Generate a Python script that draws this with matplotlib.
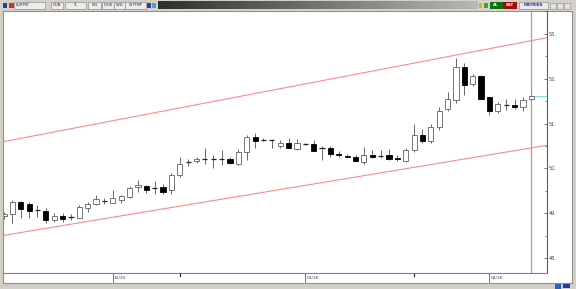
import numpy as np
import matplotlib
matplotlib.use("Agg")
import matplotlib.pyplot as plt
from matplotlib.patches import Rectangle

# daily EURTRY candles
opens = [48.93, 48.98, 49.25, 49.20, 49.07, 49.05, 48.85, 48.94, 48.91, 48.90,
         49.12, 49.21, 49.28, 49.24, 49.30, 49.37, 49.58, 49.60, 49.56, 49.58,
         49.53, 49.85, 50.14, 50.17, 50.20, 50.20, 50.20, 50.20, 50.11, 50.37,
         50.69, 50.63, 50.63, 50.49, 50.56, 50.43, 50.55, 50.54, 50.46, 50.45,
         50.32, 50.28, 50.26, 50.15, 50.31, 50.28, 50.30, 50.24, 50.17, 50.41,
         50.75, 50.62, 50.92, 51.32, 51.53, 52.26, 51.88, 52.05, 51.59, 51.29,
         51.42, 51.41, 51.36, 51.54]
highs = [49.03, 49.29, 49.27, 49.25, 49.18, 49.12, 49.00, 49.00, 48.98, 49.18,
         49.26, 49.41, 49.35, 49.52, 49.40, 49.60, 49.74, 49.62, 49.72, 49.65,
         49.89, 50.26, 50.21, 50.26, 50.45, 50.30, 50.41, 50.26, 50.43, 50.75,
         50.80, 50.67, 50.65, 50.63, 50.67, 50.66, 50.57, 50.63, 50.50, 50.51,
         50.38, 50.33, 50.31, 50.48, 50.42, 50.41, 50.43, 50.30, 50.45, 51.00,
         50.87, 50.99, 51.38, 51.71, 52.46, 52.36, 52.11, 52.08, 51.60, 51.49,
         51.54, 51.54, 51.59, 51.64]
lows = [48.88, 48.78, 48.89, 48.89, 48.92, 48.78, 48.80, 48.80, 48.85, 48.89,
        49.03, 49.18, 49.20, 49.22, 49.22, 49.33, 49.48, 49.45, 49.44, 49.44,
        49.44, 49.80, 50.05, 50.13, 50.11, 50.00, 50.08, 50.09, 50.08, 50.19,
        50.46, 50.61, 50.45, 50.45, 50.45, 50.41, 50.53, 50.38, 50.19, 50.26,
        50.26, 50.23, 50.15, 50.11, 50.23, 50.23, 50.19, 50.17, 50.15, 50.37,
        50.56, 50.56, 50.86, 51.27, 51.45, 51.64, 51.84, 51.54, 51.19, 51.24,
        51.30, 51.32, 51.29, 51.52]
closes = [48.99, 49.25, 49.09, 49.05, 49.07, 48.86, 48.94, 48.88, 48.91, 49.13,
          49.20, 49.32, 49.28, 49.33, 49.38, 49.56, 49.62, 49.52, 49.56, 49.48,
          49.85, 50.11, 50.14, 50.22, 50.20, 50.20, 50.20, 50.13, 50.37, 50.69,
          50.61, 50.63, 50.63, 50.56, 50.46, 50.56, 50.55, 50.39, 50.46, 50.33,
          50.29, 50.25, 50.17, 50.31, 50.26, 50.28, 50.22, 50.20, 50.40, 50.75,
          50.62, 50.93, 51.27, 51.54, 52.26, 51.86, 52.05, 51.54, 51.29, 51.44,
          51.42, 51.38, 51.53, 51.62]

# trend channel (start bar, end bar, value at start, value at end)
channel_x = [0, 65]
upper_y = [50.60, 52.92]
lower_y = [48.51, 50.52]

month_pos = [13, 36, 58]
month_labels = ["12/25", "01/26", "02/26"]
week_pos = [21, 49]
y_ticks = [48, 49, 50, 51, 52, 53]

W, H = 576, 289
fig = plt.figure(figsize=(W / 100, H / 100), dpi=100)
fig.patch.set_facecolor("#d4d0c8")


def px_axes(x0, y0, x1, y1, **kw):
    # axes placed by pixel box (top-left origin)
    return fig.add_axes([x0 / W, 1 - y1 / H, (x1 - x0) / W, (y1 - y0) / H], **kw)


# white chart panel with grey frame
bg = px_axes(3, 11, 572, 283)
bg.set_xticks([])
bg.set_yticks([])
bg.set_facecolor("white")
for s in bg.spines.values():
    s.set_color("#909090")
    s.set_linewidth(0.8)

# main price axes
ax = px_axes(4, 11, 546.7, 272.5)
ax.set_facecolor("none")
ax.set_xlim(0, 64.84)
ax.set_ylim(47.68, 53.51)
for side in ["top", "left"]:
    ax.spines[side].set_visible(False)
ax.spines["bottom"].set_color("#808080")
ax.spines["bottom"].set_linewidth(0.8)
ax.spines["right"].set_color("#606060")
ax.spines["right"].set_linewidth(0.8)

ax.yaxis.tick_right()
ax.set_yticks(y_ticks)
ax.set_yticklabels([f"{v}." for v in y_ticks], fontsize=3.5, color="#404040")
ax.set_yticks([v + 0.5 for v in y_ticks[:-1]] + [53.5], minor=True)
ax.tick_params(axis="y", which="major", direction="in", length=2, width=0.5,
               pad=1.5, colors="#404040")
ax.tick_params(axis="y", which="minor", direction="in", length=1.5, width=0.5,
               colors="#404040")
ax.set_xticks([])

# channel
ax.plot(channel_x, upper_y, color="#ff8a8a", lw=0.8)
ax.plot(channel_x, lower_y, color="#ff8a8a", lw=0.8)

# last bar divider + last price marker
ax.axvline(62.96, color="#a0a0a0", lw=0.9)
ax.plot([62.96, 64.84], [closes[-1], closes[-1]], color="#80e0e8", lw=0.7)

# candles
bw = 0.62
for i in range(len(opens)):
    o, h, l, c = opens[i], highs[i], lows[i], closes[i]
    ax.vlines(i, l, h, color="#505050", lw=0.6, zorder=2)
    lo, hi = min(o, c), max(o, c)
    if hi - lo < 0.02:
        ax.hlines(o, i - bw / 2, i + bw / 2, color="#202020", lw=0.9, zorder=3)
        continue
    if c >= o:
        fc, ec = "white", "#606060"
    else:
        fc, ec = "black", "black"
    ax.add_patch(Rectangle((i - bw / 2, lo), bw, hi - lo, facecolor=fc,
                           edgecolor=ec, lw=0.6, zorder=3))

# date labels under the chart
for p, lab in zip(month_pos, month_labels):
    ax.plot([p, p], [0, -0.037], transform=ax.get_xaxis_transform(),
            color="#404040", lw=0.5, clip_on=False)
    ax.text(p + 0.12, -0.022, lab, transform=ax.get_xaxis_transform(),
            fontsize=3.2, color="#404040", ha="left", va="center", clip_on=False)
for p in week_pos:
    ax.plot([p, p], [-0.004, -0.012], transform=ax.get_xaxis_transform(),
            color="#202020", lw=0.8, clip_on=False)

# top tool bar
top = px_axes(0, 0, 576, 10.5)
top.axis("off")
top.add_patch(Rectangle((0, 0), 576, 10.5, facecolor="#d4d0c8", lw=0, zorder=0))
grad = np.linspace(0.18, 0.72, 256).reshape(1, -1)
top.imshow(grad, cmap="gray", aspect="auto", extent=(158, 478, 9, 1.5),
           vmin=0, vmax=1, zorder=1)
top.set_xlim(0, 576)
top.set_ylim(10.5, 0)

boxes = [(14, 45, "EURTRY"), (51, 63, "GUN"), (65, 86, "TL"), (88, 101, "LIN"),
         (102, 114, "IOHK"), (114, 125, "5VD"), (125, 146, "SYYTMP")]
for x0, x1, t in boxes:
    top.add_patch(Rectangle((x0, 2), x1 - x0, 6.5, facecolor="#ececec",
                            edgecolor="#808080", lw=0.4, zorder=2))
    top.text(x0 + 2 if t == "EURTRY" else (x0 + x1) / 2, 5.3, t, fontsize=2.6,
             ha="left" if t == "EURTRY" else "center", va="center",
             color="#202060", zorder=3)
icons = [(3, 4, "#2040a0"), (9, 5, "#d03030"), (147, 4, "#404080"),
         (152, 4, "#40a0e0"), (479, 3, "#e0b020"), (484, 4, "#40a040")]
for x0, w, col in icons:
    top.add_patch(Rectangle((x0, 2.5), w, 5.5, facecolor=col, lw=0, zorder=2))
top.add_patch(Rectangle((490, 2), 12.5, 6.5, facecolor="#107010", lw=0, zorder=2))
top.text(496, 5.3, "AL", fontsize=2.8, ha="center", va="center", color="white",
         weight="bold", zorder=3)
top.add_patch(Rectangle((503, 2), 13.5, 6.5, facecolor="#a01010", lw=0, zorder=2))
top.text(509.5, 5.3, "SAT", fontsize=2.8, ha="center", va="center", color="white",
         weight="bold", zorder=3)
top.add_patch(Rectangle((519, 2), 29, 6.5, facecolor="#e8e8f0",
                        edgecolor="#808080", lw=0.4, zorder=2))
top.text(533.5, 5.3, "MATRIKS", fontsize=2.8, ha="center", va="center",
         color="#2030a0", weight="bold", zorder=3)
for x0 in [550, 557, 564]:
    top.add_patch(Rectangle((x0, 2.5), 6, 6, facecolor="#e0e0e0",
                            edgecolor="#909090", lw=0.4, zorder=2))

# bottom status corner
bot = px_axes(0, 283, 576, 289)
bot.set_xlim(0, 576)
bot.set_ylim(6, 0)
bot.axis("off")
bot.text(6, 2.5, "...", fontsize=3, color="#404040", ha="left", va="center")
bot.text(537, 2.5, "...", fontsize=3, color="#404040", ha="left", va="center")
bot.add_patch(Rectangle((555, 0.5), 6, 5, facecolor="#3060c0", lw=0))
bot.add_patch(Rectangle((563, 1), 7, 4, facecolor="#2040a0", lw=0))

fig.savefig("out.png", dpi=100, facecolor=fig.get_facecolor())
